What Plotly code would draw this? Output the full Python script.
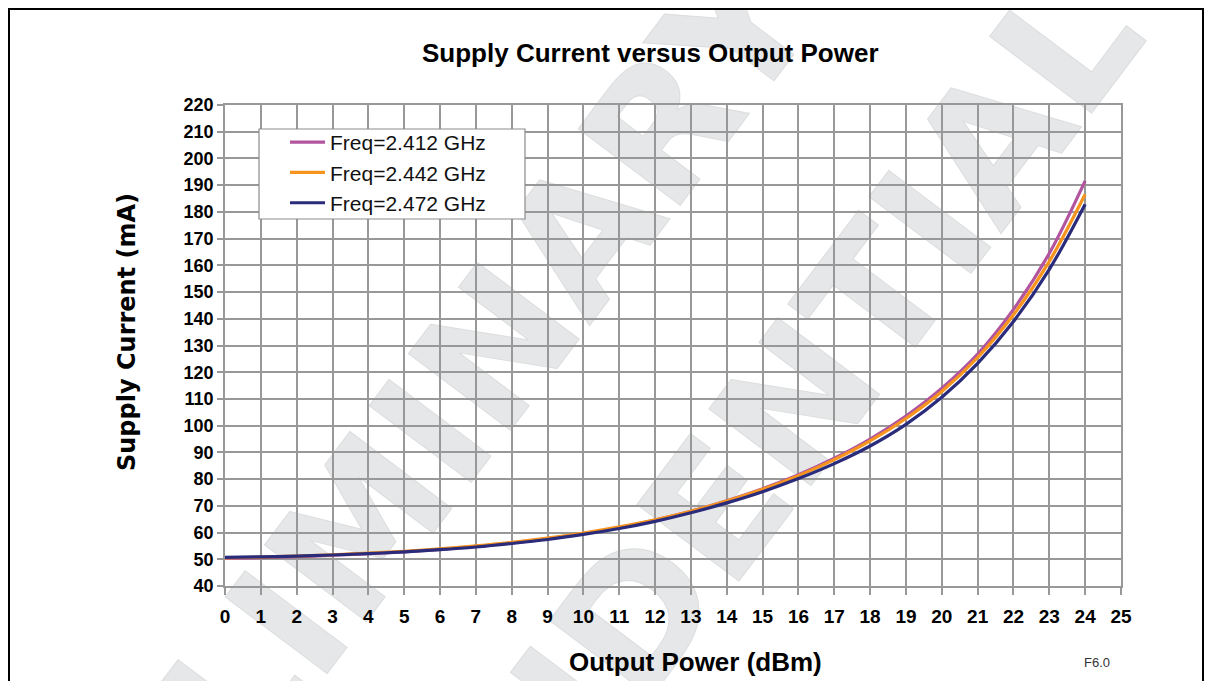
import base64
import plotly.graph_objects as go

power_dbm = list(range(0, 25))
freq_labels = ["Freq=2.412 GHz", "Freq=2.442 GHz", "Freq=2.472 GHz"]
current_2412 = [50.3, 50.6, 51.0, 51.5, 52.1, 52.8, 53.7, 54.8, 56.1, 57.7, 59.6, 61.9, 64.7,
                68.0, 71.9, 76.4, 81.6, 87.8, 95.0, 103.6, 114.0, 126.8, 143.5, 164.5, 191.6]
current_2442 = [50.5, 50.8, 51.2, 51.7, 52.3, 53.0, 53.9, 55.0, 56.3, 57.9, 59.8, 62.1, 64.8,
                68.0, 71.8, 76.2, 81.3, 87.3, 94.3, 102.7, 112.8, 125.5, 141.5, 161.5, 186.6]
current_2472 = [50.7, 50.9, 51.2, 51.6, 52.1, 52.8, 53.6, 54.6, 55.9, 57.4, 59.3, 61.5, 64.2,
                67.4, 71.1, 75.3, 80.2, 85.8, 92.4, 100.5, 110.6, 123.3, 139.0, 158.5, 182.9]
x_ticks = list(range(0, 26))
y_ticks = list(range(40, 221, 10))
watermark_words = ["PRELIMINARY", "CONFIDENTIAL"]

colors = ["#B3559E", "#F7941D", "#2A2B7B"]
series = [current_2412, current_2442, current_2472]

FONT = "Arial, 'Liberation Sans', sans-serif"
WIDE = "'DejaVu Sans', Verdana, sans-serif"

# page offset (body margin) = 8 px
OFF = 8
W, H = 1196, 673
L, R, T, B = 217, 83, 97, 95
pw, ph = W - L - R, H - T - B


def px_x(page_x):
    return (page_x - OFF - L) / pw


def px_y(page_y):
    return (H - B - (page_y - OFF)) / ph


# faint diagonal watermark, drawn beneath grid and curves
svg = (
    '<svg xmlns="http://www.w3.org/2000/svg" width="1212" height="689" viewBox="0 0 1212 689">'
    '<g font-family="DejaVu Sans, sans-serif" font-weight="bold" font-size="175" '
    'fill="#E6E7E8" stroke="#DCDDDE" stroke-width="1">'
    f'<text transform="translate(822,17) rotate(-53)" text-anchor="end">{watermark_words[0]}</text>'
    f'<text transform="translate(1149,37) rotate(-53)" text-anchor="end">{watermark_words[1]}</text>'
    '</g></svg>'
)
svg_uri = "data:image/svg+xml;base64," + base64.b64encode(svg.encode()).decode()

fig = go.Figure()
for i, (name, ys) in enumerate(zip(freq_labels, series)):
    fig.add_trace(go.Scatter(
        x=power_dbm, y=ys, name=name, mode="lines",
        line=dict(color=colors[i], width=3.2, shape="spline", smoothing=1.0),
        legendgroup=f"g{i}",
    ))

fig.update_layout(
    width=W, height=H,
    margin=dict(l=L, r=R, t=T, b=B),
    paper_bgcolor="white", plot_bgcolor="rgba(0,0,0,0)",
    font=dict(family=FONT, color="black"),
    showlegend=True,
    legend=dict(
        x=px_x(285), y=px_y(122), xanchor="left", yanchor="top",
        bgcolor="rgba(0,0,0,0)", borderwidth=0,
        font=dict(size=21, family=FONT, color="#111"),
        tracegroupgap=0, itemwidth=35,
    ),
    xaxis=dict(
        range=[0, 25], tickvals=x_ticks, ticktext=[str(v) for v in x_ticks],
        showgrid=True, gridcolor="#989898", gridwidth=1.6,
        showline=True, linecolor="#989898", linewidth=1.6, mirror=True,
        ticks="outside", ticklen=7, tickcolor="#989898", tickwidth=1.6,
        tickfont=dict(size=19, family=FONT, color="black", weight="bold"),
        ticklabelstandoff=5,
        zeroline=False,
    ),
    yaxis=dict(
        range=[40, 220], tickvals=y_ticks, ticktext=[str(v) for v in y_ticks],
        showgrid=True, gridcolor="#989898", gridwidth=1.6,
        showline=True, linecolor="#989898", linewidth=1.6, mirror=True,
        ticks="outside", ticklen=6, tickcolor="#989898", tickwidth=1.6,
        tickfont=dict(size=18, family=FONT, color="black", weight="bold"),
        zeroline=False,
    ),
    images=[dict(
        source=svg_uri, xref="paper", yref="paper",
        x=px_x(0), y=px_y(0), sizex=1212 / pw, sizey=689 / ph,
        xanchor="left", yanchor="top", sizing="stretch", layer="below",
    )],
    annotations=[
        dict(text="<b>Supply Current versus Output Power</b>", xref="paper", yref="paper",
             x=px_x(650), y=px_y(53), xanchor="center", yanchor="middle",
             showarrow=False, font=dict(size=26, family=FONT, color="black")),
        dict(text="<b>Output Power (dBm)</b>", xref="paper", yref="paper",
             x=px_x(695), y=px_y(662), xanchor="center", yanchor="middle",
             showarrow=False, font=dict(size=26, family=FONT, color="black")),
        dict(text="<b>Supply Current (mA)</b>", xref="paper", yref="paper",
             x=px_x(127), y=px_y(332), xanchor="center", yanchor="middle", textangle=-90,
             showarrow=False, font=dict(size=24, family=WIDE, color="black")),
        dict(text="F6.0", xref="paper", yref="paper",
             x=px_x(1097), y=px_y(662), xanchor="center", yanchor="middle",
             showarrow=False, font=dict(size=13, family=FONT, color="#333")),
    ],
    shapes=[
        # legend box
        dict(type="rect", xref="paper", yref="paper",
             x0=px_x(259), x1=px_x(525), y0=px_y(129), y1=px_y(219),
             line=dict(color="#8C8C8C", width=1.2), fillcolor="white", layer="above"),
        # outer frame
        dict(type="rect", xref="paper", yref="paper",
             x0=px_x(9), x1=px_x(1203), y0=px_y(9), y1=px_y(720),
             line=dict(color="black", width=2), fillcolor="rgba(0,0,0,0)", layer="above"),
    ],
)

fig.write_html("out.html")
